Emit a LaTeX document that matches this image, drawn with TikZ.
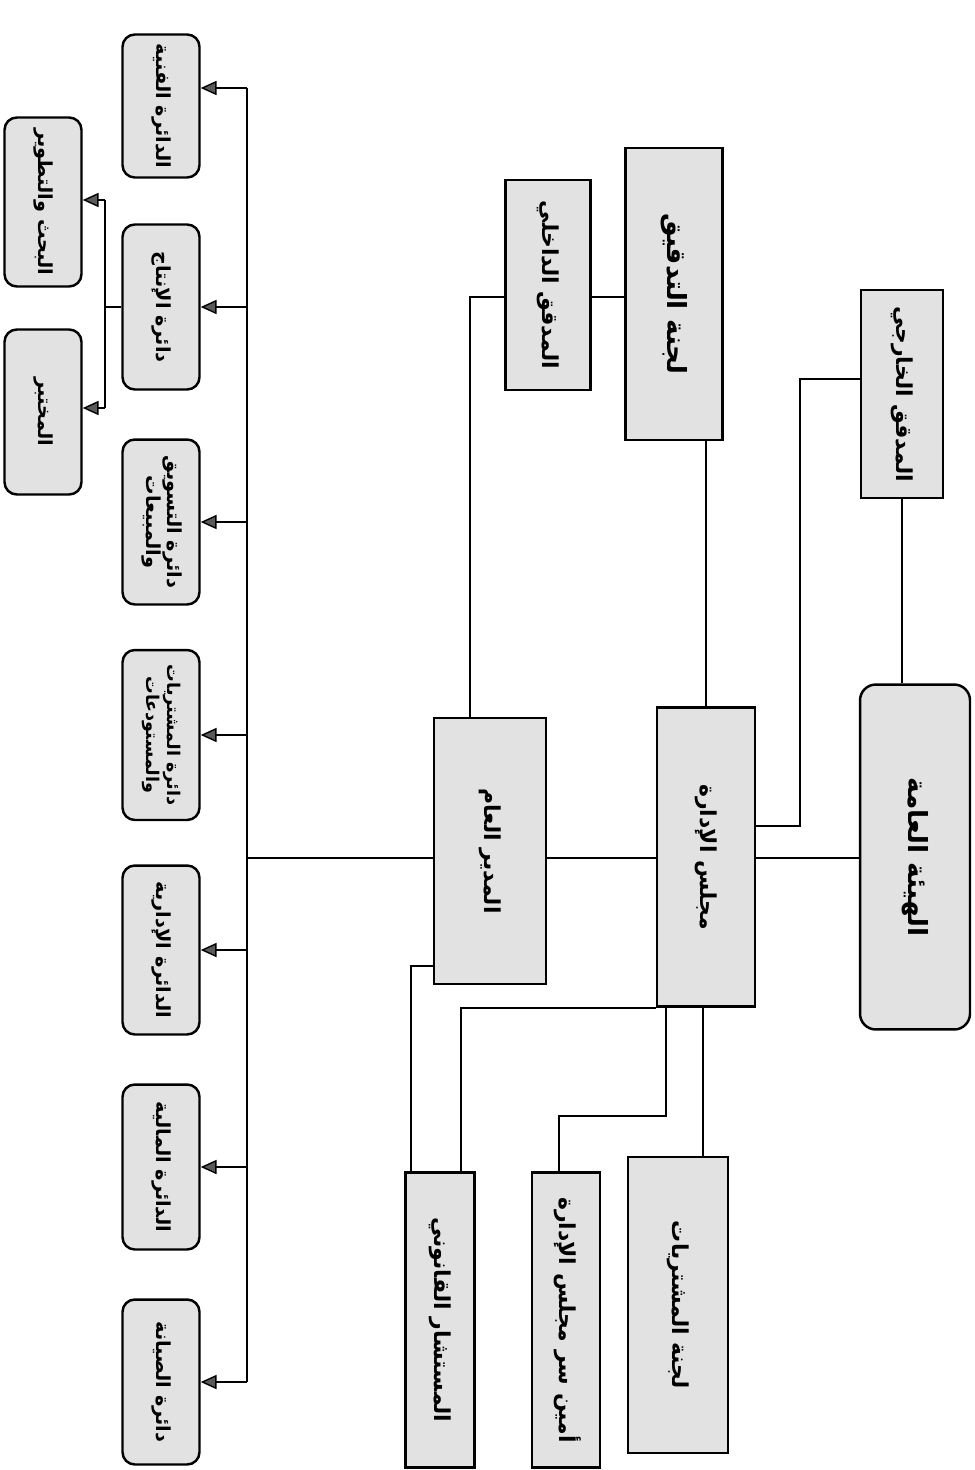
\documentclass[tikz,border=0pt]{standalone}
\usepackage{fontspec}
\usepackage{graphicx}
\usepackage{tikz}
\usetikzlibrary{arrows.meta, positioning, calc}
\newfontfamily\arabicfont[Script=Arabic]{DejaVu Sans}
\TeXXeTstate=1
\definecolor{boxgray}{HTML}{E2E2E2}
\definecolor{headgray}{HTML}{5A5A5A}
\newcommand{\rtl}[1]{\beginR #1\endR}
\newcommand{\vlabel}[1]{\rotatebox{-90}{\arabicfont\bfseries\begin{tabular}{@{}c@{}}#1\end{tabular}}}

\begin{document}
\begin{tikzpicture}[
    x=0.02cm, y=-0.02cm,
    box/.style={rectangle, draw=black, line width=1.4pt, fill=boxgray,
                inner sep=0pt, font=\fontsize{12.5}{16}\selectfont},
    dept/.style={box, rounded corners=7pt, minimum width=1.54cm,
                 font=\fontsize{11}{12}\selectfont},
    link/.style={line width=0.8pt},
    arrow/.style={link, -{Triangle[length=9pt, width=8pt, fill=headgray]}}
]
\useasboundingbox (0,0) rectangle (974,1470);

% Board side
\node[box, rounded corners=9pt, minimum width=2.2cm, minimum height=6.9cm,
      font=\fontsize{15}{18}\selectfont] (hayaa) at (915,857) {\vlabel{\rtl{الهيئة العامة}}};
\node[box, minimum width=1.64cm, minimum height=4.16cm] (extaud) at (902,394) {\vlabel{\rtl{المدقق الخارجي}}};
\node[box, minimum width=1.96cm, minimum height=5.98cm] (board) at (706,857) {\vlabel{\rtl{مجلس الإدارة}}};
\node[box, minimum width=1.94cm, minimum height=5.84cm,
      font=\fontsize{15}{18}\selectfont] (auditcom) at (674,294) {\vlabel{\rtl{لجنة التدقيق}}};
\node[box, minimum width=1.7cm, minimum height=4.2cm] (intaud) at (548,285) {\vlabel{\rtl{المدقق الداخلي}}};
\node[box, minimum width=2.24cm, minimum height=5.32cm] (gm) at (490,851) {\vlabel{\rtl{المدير العام}}};

% Bottom boxes
\node[box, minimum width=1.38cm, minimum height=5.9cm] (legal) at (440,1320) {\vlabel{\rtl{المستشار القانوني}}};
\node[box, minimum width=1.36cm, minimum height=5.9cm] (secr) at (566,1320) {\vlabel{\rtl{أمين سر مجلس الإدارة}}};
\node[box, minimum width=2cm, minimum height=5.92cm] (purchcom) at (678,1305) {\vlabel{\rtl{لجنة المشتريات}}};

% Departments
\node[dept, minimum height=2.86cm] (tech) at (161,106) {\vlabel{\rtl{الدائرة الفنية}}};
\node[dept, minimum height=3.3cm] (prod) at (161,307) {\vlabel{\rtl{دائرة الإنتاج}}};
\node[dept, minimum height=3.3cm] (mkt) at (161,522) {\vlabel{\rtl{دائرة التسويق}\\\rtl{والمبيعات}}};
\node[dept, minimum height=3.4cm, font=\fontsize{10}{12}\selectfont] (proc) at (161,735) {\vlabel{\rtl{دائرة المشتريات}\\\rtl{والمستودعات}}};
\node[dept, minimum height=3.38cm] (admin) at (161,950) {\vlabel{\rtl{الدائرة الإدارية}}};
\node[dept, minimum height=3.3cm] (fin) at (161,1167) {\vlabel{\rtl{الدائرة المالية}}};
\node[dept, minimum height=3.3cm] (maint) at (161,1382) {\vlabel{\rtl{دائرة الصيانة}}};

% Under production
\node[dept, minimum height=3.38cm] (rnd) at (43,202) {\vlabel{\rtl{البحث والتطوير}}};
\node[dept, minimum height=3.3cm] (lab) at (43,412) {\vlabel{\rtl{المختبر}}};

% Helper points
\coordinate (bustop) at (247,88);
\coordinate (bus) at (247,858);
\coordinate (busbot) at (247,1382);
\coordinate (elbowA) at (800,826);
\coordinate (elbowB) at (800,379);
\coordinate (iaLine) at (470,297);
\coordinate (glA) at (411,966);
\coordinate (blA) at (461,1008);
\coordinate (bsA) at (666,1116);
\coordinate (bsB) at (559,1116);
\coordinate (bpA) at (703,1100);
\coordinate (rdA) at (105,200);
\coordinate (rdB) at (105,408);

% Main line
\draw[link] (hayaa.west |- bus) -- (board.east |- bus);
\draw[link] (board.west |- bus) -- (gm.east |- bus);
\draw[link] (gm.west |- bus) -- (bus);
\draw[link] (bustop) -- (busbot);

% Auditors
\draw[link] (board.east |- elbowA) -- (elbowA) -- (elbowB) -- (extaud.west |- elbowB);
\draw[link] (extaud.south) -- (extaud.south |- hayaa.north);
\draw[link] (board.north) -- (board.north |- auditcom.south);
\draw[link] (gm.north -| iaLine) -- (iaLine) -- (intaud.west |- iaLine);
\draw[link] (intaud.east |- iaLine) -- (auditcom.west |- iaLine);

% Board and manager to bottom boxes
\draw[link] (gm.west |- glA) -- (glA) -- (glA |- legal.north);
\draw[link] (board.west |- blA) -- (blA) -- (blA |- legal.north);
\draw[link] (board.south -| bsA) -- (bsA) -- (bsB) -- (bsB |- secr.north);
\draw[link] (board.south -| bpA) -- (bpA |- purchcom.north);

% Departments
\draw[arrow] (bustop) -- (tech.east |- bustop);
\foreach \d in {prod, mkt, proc, admin, fin, maint}
    \draw[arrow] (bus |- \d.east) -- (\d.east);

% Production branch
\draw[link] (prod.west) -- (prod.west -| rdA);
\draw[link] (rdA) -- (rdB);
\draw[arrow] (rdA) -- (rnd.east |- rdA);
\draw[arrow] (rdB) -- (lab.east |- rdB);

\end{tikzpicture}
\end{document}
